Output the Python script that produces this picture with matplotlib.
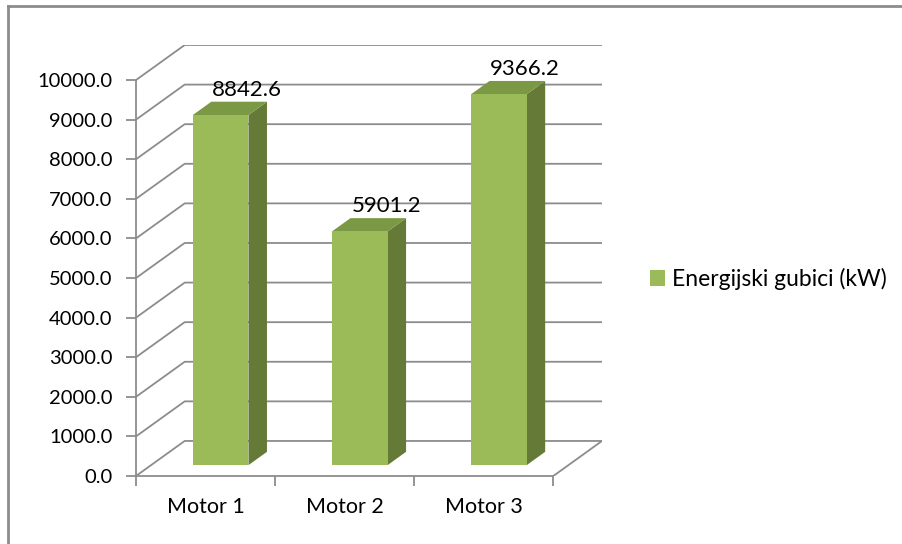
import matplotlib.pyplot as plt
from matplotlib.patches import Polygon, Patch

plt.rcParams['font.family'] = ['Lato', 'DejaVu Sans']

categories = ['Motor 1', 'Motor 2', 'Motor 3']
values = [8842.6, 5901.2, 9366.2]
series_name = 'Energijski gubici (kW)'
yticks = list(range(0, 10001, 1000))

# fake 3d: depth offset of the back wall in data units
DX = 0.35
DY = 885
d0, d1 = 0.31, 0.69
half = 0.2

front_c = '#9bbb59'
side_c = '#657a37'
top_c = '#7b9845'
grid_c = '#8c8c8c'

fig = plt.figure(figsize=(9.02, 5.44), dpi=100)
ax = fig.add_axes([136 / 902, 68 / 544, 466 / 902, 431 / 544])
ax.set_xlim(0, 3 + DX)
ax.set_ylim(0, 10000 + DY)

# walls / gridlines
for v in yticks:
    ax.plot([0, DX, 3 + DX], [v, v + DY, v + DY], color=grid_c, lw=1.3, zorder=1)
ax.plot([3, 3 + DX], [0, DY], color=grid_c, lw=1.3, zorder=1)

# bars
for i, v in enumerate(values):
    x0 = i + 0.5 - half + d0 * DX
    x1 = i + 0.5 + half + d0 * DX
    b = d0 * DY
    ddx = (d1 - d0) * DX
    ddy = (d1 - d0) * DY
    ax.add_patch(Polygon([(x1, b), (x1 + ddx, b + ddy), (x1 + ddx, b + ddy + v), (x1, b + v)],
                         closed=True, facecolor=side_c, edgecolor='none', zorder=3))
    ax.add_patch(Polygon([(x0, b + v), (x1, b + v), (x1 + ddx, b + v + ddy), (x0 + ddx, b + v + ddy)],
                         closed=True, facecolor=top_c, edgecolor='none', zorder=3))
    ax.add_patch(Polygon([(x0, b), (x1, b), (x1, b + v), (x0, b + v)],
                         closed=True, facecolor=front_c, edgecolor='none', zorder=4))
    ax.annotate(f'{v:.1f}', xy=(i + 0.5 + d0 * DX, b + v), xytext=(19, 18),
                textcoords='offset points', ha='center', va='center', fontsize=16, zorder=5)

for s in ['top', 'right']:
    ax.spines[s].set_visible(False)
ax.spines['left'].set_bounds(0, 10000)
ax.spines['bottom'].set_bounds(0, 3)
for s in ['left', 'bottom']:
    ax.spines[s].set_color(grid_c)
    ax.spines[s].set_linewidth(1.3)

ax.set_yticks(yticks)
ax.set_yticklabels([f'{v:.1f}' for v in yticks])
ax.set_xticks([0, 1, 2, 3])
ax.set_xticklabels([])
ax.set_xticks([0.5, 1.5, 2.5], minor=True)
ax.set_xticklabels(categories, minor=True)
ax.tick_params(axis='x', which='minor', length=0, pad=15, labelsize=15.5)
ax.tick_params(axis='x', which='major', length=7, color=grid_c, width=1.3)
ax.tick_params(axis='y', length=7, color=grid_c, width=1.3, pad=10, labelsize=14.5)

fig.legend(handles=[Patch(facecolor=front_c, label=series_name)], loc='center left',
           bbox_to_anchor=(634 / 902, 1 - 279 / 544), frameon=False, fontsize=16.5,
           handlelength=0.65, handleheight=0.65, handletextpad=0.3, borderpad=0.2)

# outer frame
fig.add_artist(plt.Line2D([8 / 902, 8 / 902], [0, 1 - 6 / 544], color='#8c8c8c', lw=2,
                          transform=fig.transFigure))
fig.add_artist(plt.Line2D([8 / 902, 1], [1 - 6 / 544, 1 - 6 / 544], color='#8c8c8c', lw=2,
                          transform=fig.transFigure))

fig.savefig('out.png', dpi=100)
